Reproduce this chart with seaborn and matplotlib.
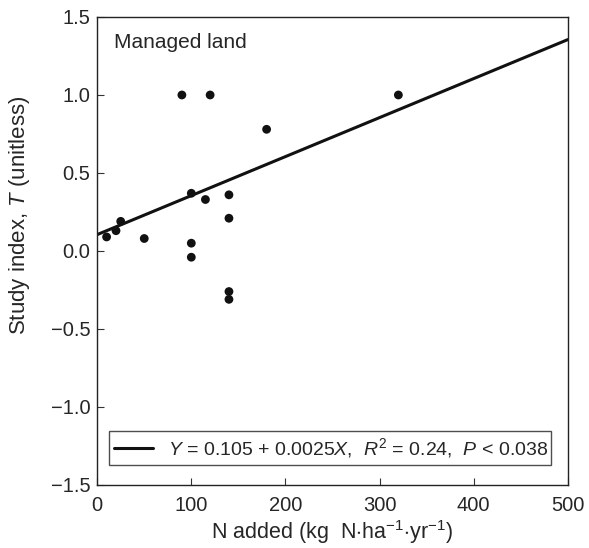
import matplotlib
matplotlib.use("Agg")
import matplotlib.pyplot as plt
import seaborn as sns
import numpy as np
import pandas as pd

# points
n_added = [10, 20, 25, 50, 90, 120, 100, 115, 140, 140, 100, 100, 140, 140, 180, 320]
study_t = [0.09, 0.13, 0.19, 0.08, 1.0, 1.0, 0.37, 0.33, 0.36, 0.21, 0.05, -0.04, -0.26, -0.31, 0.78, 1.0]

# fitted line
intercept = 0.105
slope = 0.0025
fit_x = np.array([0, 500])

sns.set_theme(style="ticks")
plt.rcParams['font.family'] = ['Liberation Sans', 'DejaVu Sans']
plt.rcParams['mathtext.fontset'] = 'custom'
plt.rcParams['mathtext.rm'] = 'Liberation Sans'
plt.rcParams['mathtext.it'] = 'Liberation Sans:italic'

df = pd.DataFrame({'x': n_added, 'y': study_t})
fit = pd.DataFrame({'x': fit_x, 'y': intercept + slope * fit_x})

fig = plt.figure(figsize=(5.89, 5.48), dpi=100)
ax = fig.add_axes([0.165, 0.115, 0.799, 0.854])

sns.lineplot(data=fit, x='x', y='y', ax=ax, color='#111111', lw=2.2,
             label=r'$Y$ = 0.105 + 0.0025$X$,  $R^2$ = 0.24,  $P$ < 0.038')
sns.scatterplot(data=df, x='x', y='y', ax=ax, color='#111111', s=40,
                edgecolor='none', zorder=3)

ax.set_xlim(0, 500)
ax.set_ylim(-1.5, 1.5)
ax.set_xticks([0, 100, 200, 300, 400, 500])
ax.set_yticks([-1.5, -1.0, -0.5, 0.0, 0.5, 1.0, 1.5])
ax.set_yticklabels(['\u22121.5', '\u22121.0', '\u22120.5', '0.0', '0.5', '1.0', '1.5'])
ax.tick_params(direction='in', length=5, width=0.8, labelsize=14.5, color='#333333')
ax.tick_params(axis='y', pad=5)
ax.tick_params(axis='x', pad=8)
for s in ax.spines.values():
    s.set_linewidth(1.0)
    s.set_color('#222222')

ax.set_xlabel(r'N added (kg  N$\cdot$ha$^{-1}$$\cdot$yr$^{-1}$)', fontsize=15.5, labelpad=2)
ax.set_ylabel(r'Study index, $T$ (unitless)', fontsize=16)
ax.yaxis.set_label_coords(-0.138, 0.577)

ax.text(0.035, 0.965, 'Managed land', transform=ax.transAxes, fontsize=15,
        va='top', ha='left')

leg = ax.legend(loc='lower left', bbox_to_anchor=(0.025, 0.043, 0.939, 0.068),
                mode='expand', fontsize=14, frameon=True, fancybox=False,
                handlelength=2.0, borderpad=0.25, borderaxespad=0)
leg.get_frame().set_edgecolor('#222222')
leg.get_frame().set_linewidth(1.0)

fig.savefig('out.png', dpi=100)
